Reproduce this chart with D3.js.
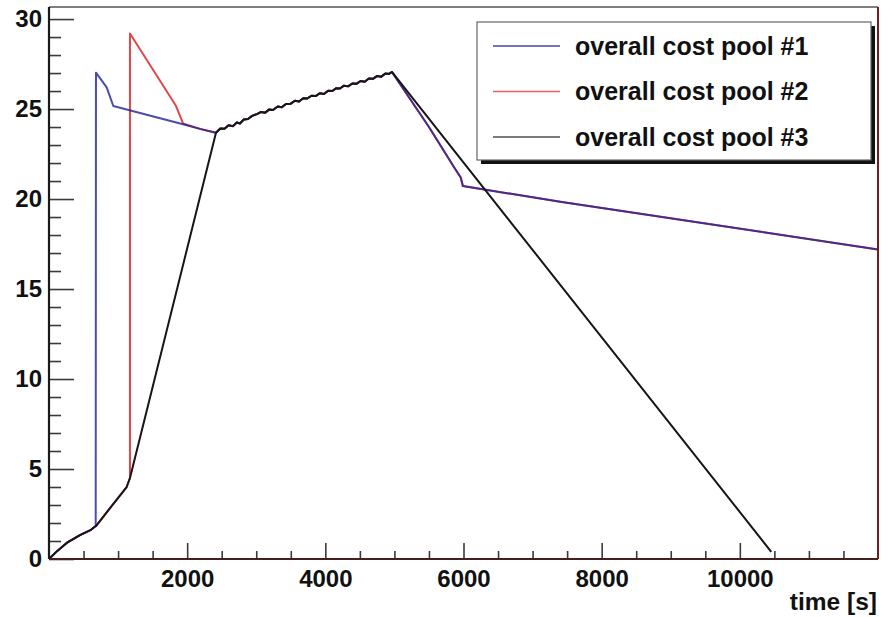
<!DOCTYPE html>
<html>
<head>
<meta charset="utf-8">
<script src="https://cdn.jsdelivr.net/npm/d3@7"></script>
<style>
  html, body { margin: 0; padding: 0; background: #fff; }
  svg { display: block; }
  text { font-family: "Liberation Sans", Arial, Helvetica, sans-serif; font-weight: bold; fill: #111; }
</style>
</head>
<body>
<svg id="chart" width="888" height="617"></svg>
<script>
// Shared ramp-up of all pools, and the common plateau climb (time [s], cost)
const rampTime = [0, 120, 256, 448, 600, 676];
const rampCost = [0, 0.45, 0.89, 1.33, 1.6, 1.83];

const climbTime = [2417, 2480, 2540, 2600, 2660, 2720, 2764, 2820, 2880, 2940, 3010, 3070, 3130, 3190, 3242,
  3310, 3370, 3430, 3500, 3560, 3620, 3680, 3734, 3800, 3860, 3920, 3980, 4040, 4100, 4160, 4211,
  4270, 4330, 4390, 4450, 4510, 4570, 4630, 4689, 4750, 4810, 4870, 4920, 4964];
const climbCost = [23.68, 23.92, 23.9, 24.1, 24.05, 24.25, 24.2, 24.42, 24.45, 24.62, 24.72, 24.84, 24.8, 24.98, 24.95,
  25.14, 25.1, 25.28, 25.3, 25.46, 25.42, 25.6, 25.58, 25.74, 25.72, 25.88, 25.84, 26.02, 26.0, 26.16, 26.14,
  26.3, 26.26, 26.42, 26.4, 26.56, 26.52, 26.7, 26.68, 26.84, 26.8, 26.98, 26.95, 27.06];

// Pool #1
const pool1Time = [...rampTime, 680, 835, 931, 1940, 2185, ...climbTime, 5500, 5875, 5960, 5991, 7400, 12000];
const pool1Cost = [...rampCost, 27.02, 26.2, 25.17, 24.16, 23.9, ...climbCost, 24.0, 21.7, 21.2, 20.72, 19.85, 17.2];

// Pool #2
const pool2Time = [...rampTime, 680, 883, 1124, 1172, 1172, 1835, 1940, 2185, ...climbTime, 5500, 5875, 5960, 5991, 7400, 12000];
const pool2Cost = [...rampCost, 1.83, 2.83, 4.0, 4.5, 29.2, 25.2, 24.2, 23.9, ...climbCost, 24.0, 21.7, 21.2, 20.72, 19.85, 17.2];

// Pool #3
const pool3Time = [...rampTime, 680, 883, 1124, 1172, ...climbTime, 10455];
const pool3Cost = [...rampCost, 1.83, 2.83, 4.0, 4.5, ...climbCost, 0.4];

const seriesNames = ["overall cost pool #1", "overall cost pool #2", "overall cost pool #3"];
const seriesColors = ["#24249a", "#e04848", "#161616"];

const xTickValues = [2000, 4000, 6000, 8000, 10000];
const xMinorValues = d3.range(500, 12000, 500).filter(v => v % 2000 !== 0);
const yTickValues = [0, 5, 10, 15, 20, 25, 30];
const yMinorValues = d3.range(1, 31).filter(v => v % 5 !== 0);
const xTitle = "time [s]";

const svg = d3.select("#chart");
const x = d3.scaleLinear().domain([0, 12000]).range([49, 878]);
const y = d3.scaleLinear().domain([0, 30.67]).range([559, 7]);

const toPts = (t, c) => t.map((v, i) => [v, c[i]]);
const line = d3.line().x(d => x(d[0])).y(d => y(d[1]));

svg.append("clipPath").attr("id", "plotclip")
  .append("rect").attr("x", x(0)).attr("y", y(30.67)).attr("width", x(12000) - x(0)).attr("height", y(0) - y(30.67));

const plot = svg.append("g").attr("clip-path", "url(#plotclip)");

// red first, blue over it (the overlap reads purple), black on top
plot.append("path").datum(toPts(pool2Time, pool2Cost))
  .attr("d", line).attr("fill", "none").attr("stroke", seriesColors[1]).attr("stroke-width", 2)
  .attr("stroke-linejoin", "round");
plot.append("path").datum(toPts(pool1Time, pool1Cost))
  .attr("d", line).attr("fill", "none").attr("stroke", seriesColors[0]).attr("stroke-width", 2)
  .attr("stroke-opacity", 0.82).attr("stroke-linejoin", "round");
plot.append("path").datum(toPts(pool3Time, pool3Cost))
  .attr("d", line).attr("fill", "none").attr("stroke", seriesColors[2]).attr("stroke-width", 2)
  .attr("stroke-linejoin", "round");

// Axes (ticks point into the frame)
const xMinor = svg.append("g").attr("transform", `translate(0,${y(0)})`)
  .call(d3.axisBottom(x).tickValues(xMinorValues).tickSize(-8).tickFormat(""));
const xMajor = svg.append("g").attr("transform", `translate(0,${y(0)})`)
  .call(d3.axisBottom(x).tickValues(xTickValues).tickSize(-16).tickPadding(11).tickFormat(d3.format("d")));
const yMinor = svg.append("g").attr("transform", `translate(${x(0)},0)`)
  .call(d3.axisLeft(y).tickValues(yMinorValues).tickSize(-12).tickFormat(""));
const yMajor = svg.append("g").attr("transform", `translate(${x(0)},0)`)
  .call(d3.axisLeft(y).tickValues(yTickValues).tickSize(-25).tickPadding(7).tickFormat(d3.format("d")));

[xMinor, xMajor, yMinor, yMajor].forEach(g => {
  g.select(".domain").remove();
  g.selectAll(".tick line").attr("stroke", "#3a3a3a").attr("stroke-width", 1.6);
});
xMajor.selectAll(".tick text").attr("font-size", 24).attr("fill", "#111");
yMajor.selectAll(".tick text").attr("font-size", 24).attr("fill", "#111");

// Frame
svg.append("line").attr("x1", x(0)).attr("x2", x(12000)).attr("y1", y(30.67)).attr("y2", y(30.67))
  .attr("stroke", "#555").attr("stroke-width", 1.5);
svg.append("line").attr("x1", x(12000)).attr("x2", x(12000)).attr("y1", y(30.67)).attr("y2", y(0))
  .attr("stroke", "#7a1a1a").attr("stroke-width", 2);
svg.append("line").attr("x1", x(0)).attr("x2", x(12000)).attr("y1", y(0)).attr("y2", y(0))
  .attr("stroke", "#4a1e1e").attr("stroke-width", 2.2);
svg.append("line").attr("x1", x(0)).attr("x2", x(0)).attr("y1", y(30.67)).attr("y2", y(0))
  .attr("stroke", "#1a1a1a").attr("stroke-width", 2.2);

// Axis title
svg.append("text").attr("x", 877).attr("y", 610).attr("text-anchor", "end")
  .attr("font-size", 24.5).text(xTitle);

// Legend
const lg = svg.append("g").attr("transform", "translate(477,22)");
lg.append("rect").attr("x", 4).attr("y", 4).attr("width", 394).attr("height", 138).attr("fill", "#111");
lg.append("rect").attr("x", 0).attr("y", 0).attr("width", 394).attr("height", 138)
  .attr("fill", "#fff").attr("stroke", "#666").attr("stroke-width", 1.2);
seriesNames.forEach((name, i) => {
  const yy = 24 + i * 45.5;
  lg.append("line").attr("x1", 16).attr("x2", 83).attr("y1", yy).attr("y2", yy)
    .attr("stroke", seriesColors[i]).attr("stroke-width", 1.4).attr("stroke-opacity", i === 2 ? 0.75 : 0.85);
  lg.append("text").attr("x", 98).attr("y", yy + 8.5).attr("font-size", 25).text(name);
});
</script>
</body>
</html>
